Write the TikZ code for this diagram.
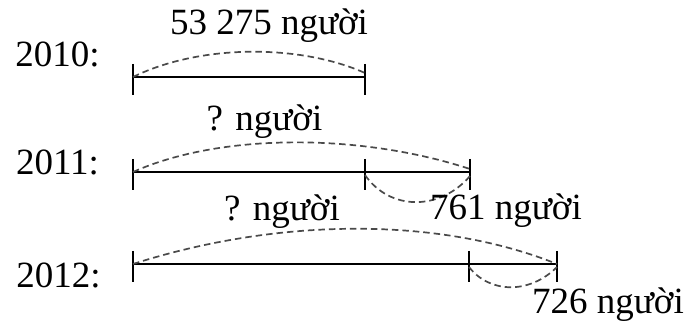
\documentclass[tikz,border=0pt]{standalone}
\usepackage{fontspec}
\setmainfont{Liberation Serif}
\usetikzlibrary{positioning,calc}
\definecolor{ink}{HTML}{000000}
\definecolor{dashgray}{HTML}{4A4A4A}
\tikzset{
  segment/.style={draw=ink, line width=1.6pt},
  tickmark/.style={draw=ink, line width=1.6pt},
  dasharc/.style={draw=dashgray, line width=1.7pt, dash pattern=on 6.5pt off 4pt},
  lbl/.style={font=\fontsize{37}{40}\selectfont, text=ink, inner sep=0pt, anchor=base}
}
\begin{document}
\begin{tikzpicture}[x=1pt,y=-1pt]
  \useasboundingbox (0,0) rectangle (686,323);
  % ends of the segments
  \coordinate (a0) at (133,77);  \coordinate (a1) at (365,77);
  \coordinate (b0) at (133,172); \coordinate (b1) at (365,172); \coordinate (b2) at (470,172);
  \coordinate (c0) at (133,264); \coordinate (c1) at (469,264); \coordinate (c2) at (557,264);
  % year labels
  \node[lbl] (y2010) at (57.5,67) {2010:};
  \node[lbl] (y2011) at (57.5,175) {2011:};
  \node[lbl] (y2012) at (58.5,288) {2012:};
  % segments
  \draw[segment] (a0) -- (a1);
  \draw[segment] (b0) -- (b1) -- (b2);
  \draw[segment] (c0) -- (c1) -- (c2);
  \foreach \p in {a0,a1,b0,b1,b2,c0,c1,c2}
    \draw[tickmark] (\p) ++(0,-13) -- ++(0,31);
  % dashed arcs
  \draw[dasharc] (a0) .. controls (200,44) and (300,44) .. ($(a1)+(0,-4)$);
  \draw[dasharc] (b0) .. controls (220,133) and (360,133) .. ($(b2)+(0,-3)$);
  \draw[dasharc] ($(b1)+(0,3)$) .. controls (390,211) and (440,211) .. ($(b2)+(0,4)$);
  \draw[dasharc] (c0) .. controls (280,217) and (440,217) .. (c2);
  \draw[dasharc] ($(c1)+(0,3)$) .. controls (490,294) and (530,294) .. ($(c2)+(0,3)$);
  % amounts
  \node[lbl] (n2010) at (269,35) {53 275 người};
  \node[lbl] (q2011) at (264.5,131) {? người};
  \node[lbl] (d2011) at (506,220) {761 người};
  \node[lbl] (q2012) at (282,221) {? người};
  \node[lbl] (d2012) at (608,313) {726 người};
\end{tikzpicture}
\end{document}
